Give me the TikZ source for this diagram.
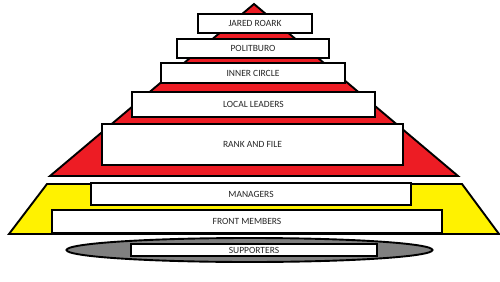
\documentclass[tikz,border=0pt]{standalone}
\usepackage{fontspec}
\setmainfont{Carlito}
\definecolor{pred}{HTML}{ED1C24}
\definecolor{pyel}{HTML}{FFF200}
\definecolor{pgray}{HTML}{808080}
\begin{document}
\begin{tikzpicture}[x=1pt,y=-1pt,
  layer/.style={draw=black,line width=1.9pt,line join=miter},
  lvl/.style={draw=black,fill=white,line width=1.9pt,inner sep=0pt,
    font=\fontsize{9.5}{10}\selectfont,text=black!85}]
\useasboundingbox (0,0) rectangle (500,281);
% red triangle
\fill[pred] (50,176) -- (254,4) -- (458,176) -- cycle;
\draw[layer] (50,176) -- (254,4) -- (458,176) -- cycle;
% yellow trapezoid
\filldraw[layer,fill=pyel] (9,234) -- (47,184) -- (462,184) -- (499,234) -- cycle;
% gray ellipse
\filldraw[layer,fill=pgray] (249.5,250) ellipse [x radius=183, y radius=12];
% boxes
\node[lvl,minimum width=114pt,minimum height=19pt] (jr) at (255,23.5) {JARED ROARK};
\node[lvl,minimum width=152pt,minimum height=19pt] (pb) at (253,48.5) {POLITBURO};
\node[lvl,minimum width=184pt,minimum height=20pt] (ic) at (253,73) {INNER CIRCLE};
\node[lvl,minimum width=243pt,minimum height=25pt] (ll) at (253.5,104.5) {LOCAL LEADERS};
\node[lvl,minimum width=301pt,minimum height=41pt] (rf) at (252.5,144.5) {RANK AND FILE};
\node[lvl,minimum width=320pt,minimum height=22pt] (mg) at (251,194) {MANAGERS};
\node[lvl,minimum width=390pt,minimum height=23pt] (fm) at (247,221.5) {FRONT MEMBERS};
\node[lvl,minimum width=246pt,minimum height=12pt] (sp) at (254,250) {SUPPORTERS};
\end{tikzpicture}
\end{document}
